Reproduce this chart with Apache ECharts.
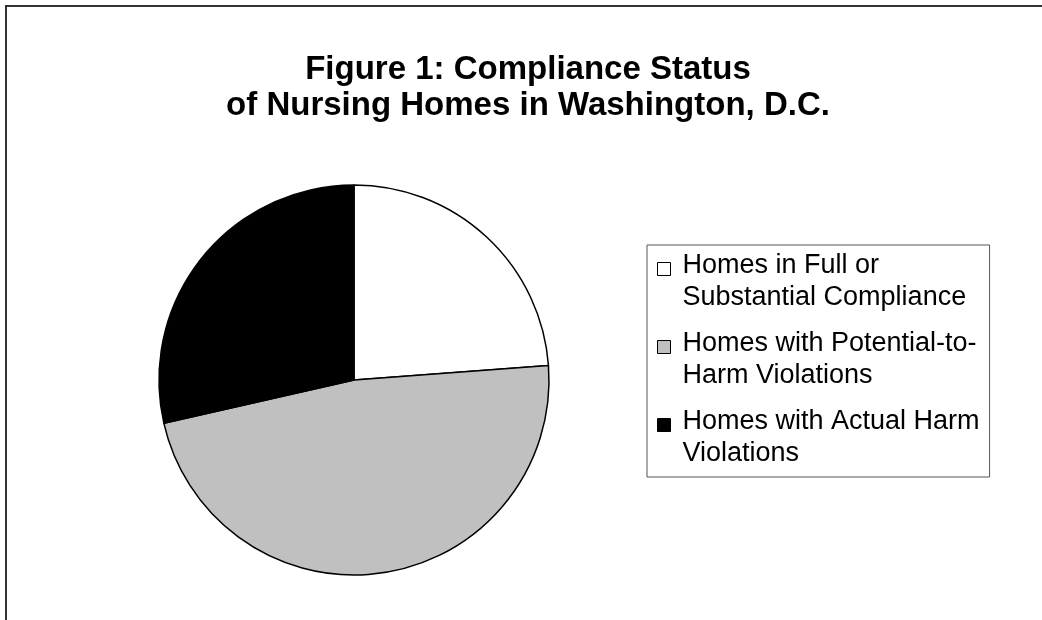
<!DOCTYPE html>
<html>
<head>
<meta charset="utf-8">
<script src="https://cdn.jsdelivr.net/npm/echarts@6/dist/echarts.min.js"></script>
<style>
  html, body { margin: 0; padding: 0; background: #fff; }
  #chart { width: 1042px; height: 620px; }
</style>
</head>
<body>
<div id="chart"></div>
<script>
// ---- data ----
const titleText = 'Figure 1: Compliance Status\nof Nursing Homes in Washington, D.C.';
const categories = [
  'Homes in Full or\nSubstantial Compliance',
  'Homes with Potential-to-\nHarm Violations',
  'Homes with Actual Harm\nViolations'
];
const values = [5, 10, 6];
const colors = ['#ffffff', '#c0c0c0', '#000000'];

// ---- chart ----
const chart = echarts.init(document.getElementById('chart'), null, { renderer: 'canvas' });
const FONT = '"Liberation Sans", Arial, Helvetica, sans-serif';

chart.setOption({
  animation: false,
  backgroundColor: '#ffffff',
  title: {
    text: titleText,
    left: 528,
    top: 52,
    textAlign: 'center',
    padding: 0,
    textStyle: {
      fontFamily: FONT,
      fontWeight: 'bold',
      fontSize: 33,
      lineHeight: 36,
      color: '#000'
    }
  },
  legend: {
    orient: 'vertical',
    left: 647,
    top: 245,
    padding: [5, 10, 7, 10],
    itemGap: 14,
    itemWidth: 20,
    itemHeight: 39,
    icon: 'path://M0,0H13V13H0ZM20,39',
    symbolKeepAspect: false,
    borderColor: '#555',
    borderWidth: 1,
    backgroundColor: '#fff',
    selectedMode: false,
    itemStyle: { borderColor: '#000', borderWidth: 1 },
    textStyle: {
      fontFamily: FONT,
      fontSize: 27,
      lineHeight: 32,
      color: '#000'
    },
    data: categories
  },
  graphic: [{
    type: 'polyline',
    silent: true,
    shape: { points: [[6, 620], [6, 6], [1042, 6]] },
    style: { stroke: '#333', lineWidth: 2, fill: null }
  }],
  series: [{
    type: 'pie',
    center: [354, 380],
    radius: 195,
    startAngle: 90,
    clockwise: true,
    label: { show: false },
    labelLine: { show: false },
    emphasis: { disabled: true },
    itemStyle: { borderColor: '#000', borderWidth: 1.5 },
    data: categories.map((name, i) => ({
      name: name,
      value: values[i],
      itemStyle: { color: colors[i] }
    }))
  }]
});
</script>
</body>
</html>
